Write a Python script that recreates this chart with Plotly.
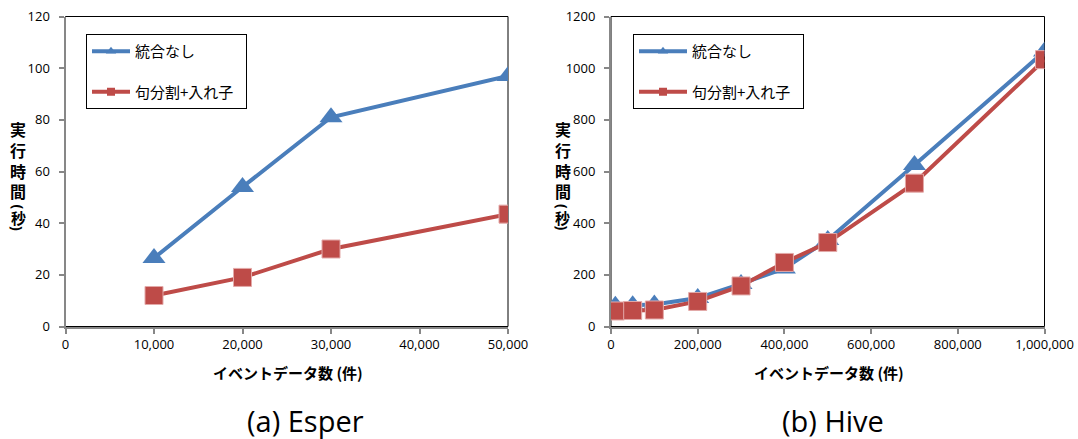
import plotly.graph_objects as go

# ---------------- data ----------------
esper_x = [10000, 20000, 30000, 50000]
esper_none = [26.5, 54, 81, 97]
esper_split = [12, 19, 30, 43.5]

hive_x = [10000, 50000, 100000, 200000, 300000, 400000, 500000, 700000, 1000000]
hive_none = [80, 82, 85, 110, 165, 225, 335, 625, 1065]
hive_split = [60, 62, 64, 97, 157, 248, 325, 555, 1033]

series_names = ["統合なし", "句分割+入れ子"]
esper_xticks = [0, 10000, 20000, 30000, 40000, 50000]
hive_xticks = [0, 200000, 400000, 600000, 800000, 1000000]

y_title_main = "実<br>行<br>時<br>間"
y_title_unit = "秒"
x_title = "イベントデータ数 (件)"
sub_titles = ["(a) Esper", "(b) Hive"]

# ---------------- style ----------------
W, H = 1078, 439
BLUE = "#4A7EBB"
RED = "#BE4B48"
AXIS = "#878787"
TICKFONT = dict(family="Open Sans", size=13, color="#000000")
JP = "Noto Sans CJK JP"
NB = "\u00a0"


def px(x):
    return x / W


def py(y):
    return 1 - y / H


fig = go.Figure()

L = (65.5, 508)
R = (611, 1044.5)
TOP, BOT = 16.5, 326.5

tri_size = 20
sq_size = 18

for xs, ys_none, ys_split, xa, ya, leg, pad in [
    (esper_x, esper_none, esper_split, "x", "y", "legend", NB * 2),
    (hive_x, hive_none, hive_split, "x2", "y2", "legend2", NB * 2),
]:
    fig.add_trace(go.Scatter(
        x=xs, y=ys_none, xaxis=xa, yaxis=ya, mode="lines+markers",
        line=dict(color=BLUE, width=4),
        marker=dict(symbol="triangle-up", size=tri_size, color=BLUE),
        showlegend=False, name=series_names[0], hoverinfo="skip"))
    fig.add_trace(go.Scatter(
        x=xs, y=ys_split, xaxis=xa, yaxis=ya, mode="lines+markers",
        line=dict(color=RED, width=4),
        marker=dict(symbol="square", size=sq_size, color=RED,
                    line=dict(color="#E3A9A8", width=1)),
        showlegend=False, name=series_names[1], hoverinfo="skip"))
    # legend entries
    fig.add_trace(go.Scatter(
        x=[None], y=[None], xaxis=xa, yaxis=ya, mode="lines+markers",
        line=dict(color=BLUE, width=4),
        marker=dict(symbol="triangle-up", size=9, color=BLUE),
        name=series_names[0], legend=leg, legendgroup="a" + leg))
    fig.add_trace(go.Scatter(
        x=[None], y=[None], xaxis=xa, yaxis=ya, mode="lines+markers",
        line=dict(color=RED, width=4),
        marker=dict(symbol="square", size=8, color=RED),
        name=series_names[1] + pad, legend=leg, legendgroup="b" + leg))

common_x = dict(showline=True, linecolor=AXIS, linewidth=2, ticks="outside",
                ticklen=5, tickcolor=AXIS, tickwidth=1.5, showgrid=False,
                zeroline=False, tickfont=TICKFONT, tickformat=",",
                automargin=False)
common_y = dict(showline=True, linecolor=AXIS, linewidth=2, ticks="outside",
                ticklen=5, tickcolor=AXIS, tickwidth=1.5, showgrid=False,
                zeroline=False, tickfont=TICKFONT, ticklabelstandoff=6,
                automargin=False)

leg_common = dict(bordercolor="#000000", borderwidth=1, bgcolor="#FFFFFF",
                  font=dict(family=JP, size=15, color="#000000"),
                  xanchor="left", yanchor="top", traceorder="grouped",
                  tracegroupgap=18)

fig.update_layout(
    width=W, height=H,
    margin=dict(l=0, r=0, t=0, b=0, pad=0, autoexpand=False),
    paper_bgcolor="#FFFFFF", plot_bgcolor="#FFFFFF",
    xaxis=dict(domain=[px(L[0]), px(L[1])], range=[0, 50000],
               tickvals=esper_xticks, **common_x),
    yaxis=dict(domain=[py(BOT), py(TOP)], range=[0, 120], dtick=20,
               anchor="x", **common_y),
    xaxis2=dict(domain=[px(R[0]), px(R[1])], range=[0, 1000000],
                tickvals=hive_xticks, anchor="y2", **common_x),
    yaxis2=dict(domain=[py(BOT), py(TOP)], range=[0, 1200], dtick=200,
                anchor="x2", **common_y),
    legend=dict(x=px(86), y=py(34), itemwidth=38, **leg_common),
    legend2=dict(x=px(633), y=py(34), itemwidth=48, **leg_common),
    hovermode=False,
)

# plot-area borders
for xr, yr in [("x domain", "y domain"), ("x2 domain", "y2 domain")]:
    fig.add_shape(type="rect", xref=xr, yref=yr, x0=0, x1=1, y0=0, y1=1,
                  line=dict(color="#000000", width=1), layer="below")

# y-axis titles (stacked characters, vertical-form parentheses)
for cx in (18, 562.5):
    fig.add_annotation(text="<b>%s</b>" % y_title_main, x=px(cx), y=py(160),
                       xref="paper", yref="paper", showarrow=False,
                       xanchor="center", yanchor="middle", borderpad=0,
                       font=dict(family=JP, size=16, color="#000000"))
    fig.add_annotation(text="<b>%s</b>" % y_title_unit, x=px(cx), y=py(217.5),
                       xref="paper", yref="paper", showarrow=False,
                       xanchor="center", yanchor="middle", borderpad=0,
                       font=dict(family=JP, size=15, color="#000000"))
    for ch, yy in (("(", 206.5), (")", 228)):
        fig.add_annotation(text="<b>%s</b>" % ch, x=px(cx), y=py(yy),
                           xref="paper", yref="paper", showarrow=False,
                           textangle=90, xanchor="center", yanchor="middle",
                           borderpad=0,
                           font=dict(family="Noto Sans", size=14,
                                     color="#000000"))

# x-axis titles
for cx in (287.5, 829):
    fig.add_annotation(text="<b>%s</b>" % x_title, x=px(cx), y=py(372),
                       xref="paper", yref="paper", showarrow=False,
                       xanchor="center", yanchor="middle",
                       font=dict(family=JP, size=15, color="#000000"))

# subtitles
for cx, t in zip((305, 833), sub_titles):
    fig.add_annotation(text=t, x=px(cx), y=py(420), xref="paper", yref="paper",
                       showarrow=False, xanchor="center", yanchor="middle",
                       font=dict(family="Open Sans", size=29, color="#000000"))

fig.write_html("out.html",
               config={"displayModeBar": False},
               post_script="document.body.style.margin='0';"
                           "document.body.style.padding='0';")
